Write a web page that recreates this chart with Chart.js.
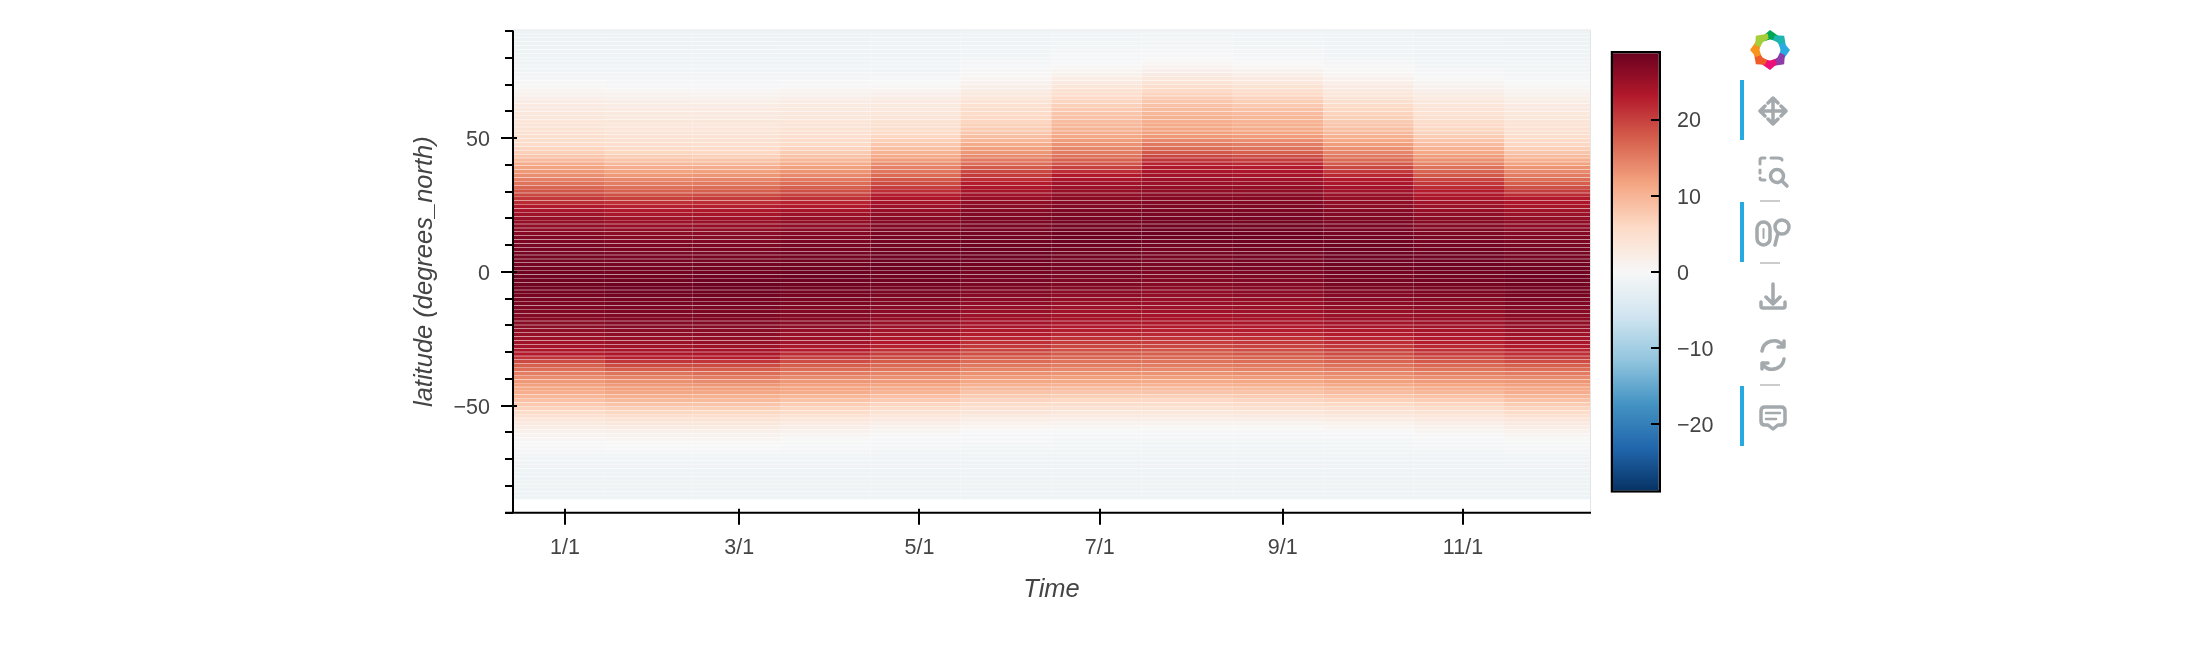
<!DOCTYPE html>
<html><head><meta charset="utf-8">
<script src="https://cdn.jsdelivr.net/npm/chart.js@4"></script>
<style>
html,body{margin:0;padding:0;background:#fff;width:2200px;height:660px;overflow:hidden}
canvas{position:absolute;top:0}
#main{left:0}#cbar{left:1600px}
svg{position:absolute;left:0;top:0}
</style></head><body>
<canvas id="main" width="1600" height="660"></canvas>
<canvas id="cbar" width="200" height="660"></canvas>
<svg width="2200" height="660" id="tb" fill="none" stroke="#a3a9ac" stroke-width="3.500" stroke-linecap="round" stroke-linejoin="round">
<g id="logo" stroke="none" style="filter:blur(0.7px)"></g>
<g stroke="none" fill="#26aae1"><rect x="1740" y="80" width="4" height="60"/><rect x="1740" y="202" width="4" height="60"/><rect x="1740" y="386" width="4" height="60"/></g>
<g stroke="#cccccc" stroke-width="2" stroke-linecap="butt"><path d="M1760 201H1780M1760 263H1780M1760 385H1780"/></g>
<path d="M1773 99V123M1761 111H1785M1768 103L1773 98L1778 103M1768 119L1773 124L1778 119M1765 106L1760 111L1765 116M1781 106L1786 111L1781 116"/>
<path d="M1760 164V160Q1760 158 1762 158H1765M1771 158H1777Q1782 158 1782 160M1760 170V173M1760 178Q1760 180 1762 180H1765" stroke-width="3"/>
<circle cx="1777" cy="176" r="6.500"/><path d="M1782 181L1787 186"/>
<rect x="1757" y="222" width="13" height="23" rx="6.500"/><path d="M1763.500 229V238" stroke-width="2"/>
<circle cx="1782" cy="227" r="7"/><path d="M1778 233L1775 245"/>
<path d="M1773 284V304M1766 297L1773 304L1780 297M1761 302V306Q1761 308 1763 308H1783Q1785 308 1785 306V302"/>
<path d="M1783 345A12 12 0 0 0 1762 351M1763 365A12 12 0 0 0 1784 359M1784 341V347H1778M1762 369V363H1768"/>
<path d="M1765 407H1781Q1785 407 1785 411V421Q1785 425 1781 425H1778L1773 429L1768 425H1765Q1761 425 1761 421V411Q1761 407 1765 407Z"/>
<path d="M1766 413H1780M1766 419H1776" stroke-width="2.500"/>
</svg>
<script>
const latitudes=[
-84.35,-82.9,-81.45,-80,-78.55,-77.1,-75.65,-74.2,-72.75,-71.3,
-69.85,-68.4,-66.95,-65.5,-64.05,-62.6,-61.15,-59.7,-58.25,-56.8,
-55.35,-53.9,-52.45,-51,-49.55,-48.1,-46.65,-45.2,-43.75,-42.3,
-40.85,-39.4,-37.95,-36.5,-35.05,-33.6,-32.15,-30.7,-29.25,-27.8,
-26.35,-24.9,-23.45,-22,-20.55,-19.1,-17.65,-16.2,-14.75,-13.3,
-11.85,-10.4,-8.95,-7.5,-6.05,-4.6,-3.15,-1.7,-0.25,1.2,
2.65,4.1,5.55,7,8.45,9.9,11.35,12.8,14.25,15.7,
17.15,18.6,20.05,21.5,22.95,24.4,25.85,27.3,28.75,30.2,
31.65,33.1,34.55,36,37.45,38.9,40.35,41.8,43.25,44.7,
46.15,47.6,49.05,50.5,51.95,53.4,54.85,56.3,57.75,59.2,
60.65,62.1,63.55,65,66.45,67.9,69.35,70.8,72.25,73.7,
75.15,76.6,78.05,79.5,80.95,82.4,83.85,85.3,86.75,88.2,89.65];
const monthEdges=[-17.6,13.5,43.1,72.8,103.4,133.8,164.6,195.2,226.1,256.7,287.3,317.9,347];
const jan=[-1.4,-1.4,-1.4,-1.4,-1.3,-1.3,-1.3,-1.3,-1.2,-1.1,
-1.0,-0.8,-0.5,-0.2,0.0,0.4,0.9,1.4,2.1,2.9,
3.6,4.5,5.5,6.6,7.7,8.7,9.8,10.6,11.3,11.9,
12.6,13.7,14.9,16.2,17.4,19.2,21.1,23.0,23.7,24.3,
24.7,25.0,25.4,25.8,26.2,26.4,26.6,26.8,27.0,27.2,
27.4,27.6,27.8,28.0,28.2,28.3,28.3,28.3,28.2,28.1,
28.0,27.9,27.9,27.8,27.7,27.6,27.3,27.0,26.6,26.1,
25.8,25.5,25.2,24.6,23.9,23.2,21.7,20.6,19.3,18.2,
16.8,15.7,14.6,13.5,12.6,11.7,10.7,9.2,8.1,7.1,
6.3,5.6,5.1,4.8,4.5,4.2,3.9,3.6,3.3,3.1,
2.9,2.6,2.2,1.8,1.3,0.7,0.1,-0.2,-0.5,-0.7,
-0.9,-1.0,-1.2,-1.3,-1.4,-1.4,-1.5,-1.5,-1.5,-1.5,-1.5];
const feb=[-1.4,-1.4,-1.4,-1.4,-1.4,-1.3,-1.3,-1.3,-1.2,-1.1,
-0.9,-0.7,-0.4,-0.1,0.1,0.6,1.1,1.7,2.4,3.3,
4.2,5.2,6.2,7.1,8.3,9.4,10.4,11.4,12.0,12.6,
13.3,14.4,15.7,17.5,19.0,20.9,22.7,23.6,24.2,24.7,
25.1,25.4,25.8,26.2,26.5,26.8,27.0,27.1,27.3,27.5,
27.7,27.9,28.1,28.3,28.4,28.4,28.3,28.2,28.1,28.0,
27.9,27.8,27.7,27.6,27.5,27.3,27.0,26.6,26.2,25.8,
25.3,24.9,24.5,23.8,23.2,22.6,21.3,20.0,18.6,17.2,
16.0,14.9,14.0,12.6,11.7,10.7,9.4,8.3,7.3,6.2,
5.5,5.0,4.7,4.3,4.0,3.8,3.5,3.3,3.0,2.9,
2.7,2.3,1.9,1.5,1.0,0.3,-0.2,-0.4,-0.6,-0.8,
-0.9,-1.0,-1.2,-1.3,-1.4,-1.4,-1.5,-1.5,-1.5,-1.5,-1.5];
const mar=[-1.4,-1.4,-1.4,-1.4,-1.4,-1.3,-1.3,-1.3,-1.2,-1.1,
-0.9,-0.7,-0.4,-0.1,0.1,0.6,1.1,1.7,2.5,3.3,
4.2,5.1,6.1,7.2,8.2,9.3,10.3,11.4,12.1,12.8,
13.8,15.0,16.3,17.6,19.1,20.9,22.9,23.7,24.3,24.9,
25.4,25.7,26.1,26.4,26.7,26.9,27.1,27.2,27.4,27.6,
27.8,28.0,28.2,28.4,28.5,28.5,28.4,28.3,28.2,28.1,
28.0,27.9,27.8,27.7,27.5,27.3,27.1,26.7,26.3,25.9,
25.5,25.1,24.7,24.0,23.4,22.8,21.6,20.4,19.0,17.5,
16.3,15.2,14.2,12.9,11.9,10.8,9.4,8.2,7.1,6.1,
5.5,5.0,4.7,4.3,4.0,3.8,3.5,3.3,3.0,2.8,
2.6,2.2,1.8,1.4,0.9,0.3,-0.2,-0.4,-0.6,-0.8,
-0.9,-1.0,-1.2,-1.3,-1.4,-1.4,-1.5,-1.5,-1.5,-1.5,-1.5];
const apr=[-1.4,-1.4,-1.4,-1.4,-1.4,-1.3,-1.3,-1.3,-1.2,-1.1,
-1.0,-0.8,-0.6,-0.3,-0.1,0.1,0.7,1.2,1.9,2.7,
3.5,4.4,5.4,6.3,7.3,8.4,9.6,10.9,11.5,12.0,
12.8,13.9,15.1,16.4,17.6,18.9,20.2,21.7,23.0,23.8,
24.5,24.8,25.2,25.6,26.0,26.3,26.5,26.7,26.9,27.1,
27.4,27.6,27.8,28.0,28.2,28.3,28.4,28.5,28.5,28.4,
28.3,28.2,28.1,28.0,27.9,27.7,27.5,27.1,26.8,26.4,
26.0,25.7,25.3,24.8,24.1,23.3,22.4,21.2,20.0,18.7,
17.4,16.3,15.2,14.0,13.0,11.9,10.9,9.6,8.5,7.5,
6.4,5.8,5.3,4.9,4.5,4.2,3.9,3.6,3.3,3.1,
2.9,2.5,2.2,1.8,1.3,0.6,0.0,-0.2,-0.5,-0.7,
-1.0,-1.1,-1.2,-1.3,-1.4,-1.4,-1.4,-1.5,-1.5,-1.5,-1.5];
const may=[-1.4,-1.4,-1.4,-1.4,-1.3,-1.3,-1.3,-1.3,-1.2,-1.2,
-1.1,-0.9,-0.7,-0.6,-0.4,-0.2,0.0,0.6,1.1,1.9,
2.8,3.6,4.4,5.4,6.3,7.6,8.7,9.9,10.8,11.6,
12.5,13.4,14.4,15.6,16.6,17.7,19.1,20.1,21.3,22.5,
23.2,23.7,24.1,24.5,25.0,25.4,25.7,26.0,26.3,26.6,
26.9,27.1,27.4,27.6,27.8,28.0,28.2,28.3,28.4,28.5,
28.5,28.5,28.4,28.3,28.2,28.1,28.0,27.8,27.5,27.2,
26.9,26.6,26.3,25.8,25.3,24.8,24.3,23.6,22.8,21.5,
20.2,19.1,18.0,16.5,15.5,14.6,13.5,12.3,11.2,10.0,
8.8,7.9,7.0,6.2,5.6,5.1,4.7,4.2,3.8,3.5,
3.2,2.9,2.6,2.2,1.6,0.9,0.3,0.0,-0.4,-0.7,
-0.9,-1.0,-1.1,-1.2,-1.3,-1.3,-1.4,-1.4,-1.4,-1.5,-1.5];
const jun=[-1.4,-1.4,-1.4,-1.3,-1.3,-1.3,-1.3,-1.3,-1.3,-1.2,
-1.2,-1.0,-0.9,-0.7,-0.6,-0.4,-0.3,0.0,0.5,1.3,
2.1,2.9,3.7,4.6,5.5,6.5,7.4,8.4,9.4,10.3,
11.4,12.4,13.3,14.4,15.4,16.5,17.6,18.7,19.6,20.6,
21.4,22.2,23.0,23.4,23.9,24.3,24.7,25.0,25.3,25.6,
26.0,26.3,26.6,26.9,27.2,27.4,27.6,27.8,27.9,28.1,
28.2,28.4,28.5,28.5,28.5,28.4,28.3,28.1,27.9,27.7,
27.5,27.3,27.2,26.9,26.6,26.2,25.8,25.3,24.7,24.2,
23.6,22.9,21.5,20.4,19.3,17.8,16.2,15.1,13.9,12.8,
11.9,10.9,9.7,8.9,8.0,7.4,6.9,6.3,5.9,5.5,
5.1,4.6,4.1,3.5,2.9,2.3,1.7,1.2,0.7,0.2,
-0.2,-0.4,-0.6,-0.8,-0.9,-1.0,-1.1,-1.2,-1.2,-1.3,-1.3];
const jul=[-1.3,-1.3,-1.3,-1.3,-1.3,-1.3,-1.3,-1.2,-1.2,-1.2,
-1.2,-1.0,-0.9,-0.8,-0.7,-0.6,-0.4,-0.1,0.3,1.1,
1.8,2.6,3.4,4.3,5.1,6.1,7.2,8.1,9.1,10.1,
11.2,12.1,13.1,14.1,15.0,15.9,16.9,17.7,18.6,19.5,
20.4,21.2,22.0,22.8,23.3,23.8,24.1,24.4,24.7,25.0,
25.4,25.7,26.0,26.4,26.7,27.0,27.2,27.4,27.6,27.8,
27.9,28.0,28.1,28.2,28.3,28.4,28.5,28.5,28.4,28.2,
28.0,27.8,27.6,27.4,27.2,26.9,26.5,26.2,25.8,25.5,
25.0,24.6,24.0,23.2,21.5,20.0,18.3,17.2,16.0,15.0,
14.1,13.2,12.3,11.3,10.7,10.1,9.6,9.1,8.6,8.1,
7.6,7.0,6.3,5.7,5.0,4.3,3.5,2.8,2.1,1.3,
0.7,0.3,0.0,-0.3,-0.4,-0.6,-0.7,-0.8,-0.9,-1.0,-1.1];
const aug=[-1.3,-1.3,-1.3,-1.3,-1.3,-1.3,-1.3,-1.3,-1.2,-1.2,
-1.2,-1.1,-1.0,-0.9,-0.8,-0.6,-0.4,-0.2,0.1,1.0,
1.8,2.6,3.4,4.2,5.1,6.0,7.1,8.2,9.1,10.0,
11.0,12.1,13.1,14.0,15.0,15.8,16.8,17.6,18.4,19.3,
20.2,21.0,21.9,22.6,23.2,23.7,24.0,24.3,24.6,24.8,
25.2,25.4,25.7,26.0,26.3,26.6,26.9,27.1,27.3,27.5,
27.6,27.7,27.8,27.9,28.0,28.1,28.3,28.4,28.5,28.4,
28.2,28.0,27.8,27.6,27.4,27.2,26.9,26.6,26.2,25.9,
25.5,25.1,24.8,24.4,24.0,23.4,22.4,20.9,19.6,18.0,
16.3,15.3,14.0,12.7,11.9,11.4,11.0,10.5,10.1,9.7,
9.1,8.5,7.9,7.3,6.5,5.7,4.9,4.1,3.2,2.4,
1.6,1.0,0.5,0.0,-0.2,-0.4,-0.5,-0.7,-0.8,-0.9,-1.0];
const sep=[-1.3,-1.3,-1.3,-1.3,-1.3,-1.3,-1.3,-1.3,-1.2,-1.2,
-1.2,-1.1,-1.0,-0.9,-0.8,-0.6,-0.4,-0.2,0.1,1.1,
1.9,2.8,3.6,4.6,5.5,6.4,7.4,8.4,9.3,10.3,
11.3,12.4,13.5,14.5,15.2,16.2,17.2,18.0,18.9,19.7,
20.6,21.3,22.2,22.9,23.3,23.9,24.2,24.5,24.8,25.1,
25.4,25.7,26.0,26.3,26.5,26.8,27.0,27.2,27.4,27.6,
27.8,27.9,28.0,28.1,28.2,28.2,28.4,28.5,28.4,28.3,
28.1,27.9,27.7,27.6,27.4,27.2,26.9,26.6,26.2,25.9,
25.5,25.0,24.6,24.2,23.6,23.1,21.9,20.3,18.9,17.4,
15.8,14.9,13.6,12.4,11.5,10.9,10.4,9.9,9.6,9.2,
8.5,7.8,7.2,6.5,5.8,5.0,4.2,3.4,2.6,1.8,
1.0,0.5,0.0,-0.4,-0.5,-0.7,-0.8,-0.9,-1.0,-1.0,-1.1];
const oct=[-1.4,-1.4,-1.4,-1.3,-1.3,-1.3,-1.3,-1.3,-1.3,-1.2,
-1.2,-1.1,-1.0,-0.8,-0.7,-0.5,-0.3,0.0,0.6,1.3,
2.3,3.2,4.1,5.0,5.9,6.9,8.0,9.1,10.0,11.0,
12.0,13.1,14.0,15.0,16.0,17.0,18.1,19.0,19.9,20.7,
21.5,22.2,23.0,23.4,23.9,24.4,24.8,25.1,25.5,25.8,
26.1,26.5,26.8,27.1,27.4,27.6,27.8,27.9,28.0,28.2,
28.3,28.4,28.5,28.5,28.5,28.5,28.3,28.1,27.9,27.7,
27.5,27.3,27.1,26.8,26.5,26.2,25.9,25.5,25.1,24.7,
24.3,23.8,23.3,22.0,20.7,19.3,17.8,16.5,15.5,14.3,
13.2,12.3,11.2,10.3,9.5,8.8,8.1,7.5,7.0,6.6,
6.1,5.5,4.8,4.0,3.5,3.0,2.4,1.8,1.2,0.6,
0.1,-0.2,-0.5,-0.8,-0.9,-1.0,-1.1,-1.2,-1.3,-1.3,-1.4];
const nov=[-1.4,-1.4,-1.4,-1.4,-1.3,-1.3,-1.3,-1.3,-1.3,-1.2,
-1.2,-1.0,-0.8,-0.6,-0.4,-0.2,0.0,0.6,1.2,1.9,
2.8,3.6,4.4,5.4,6.3,7.3,8.5,9.6,10.6,11.5,
12.5,13.6,14.7,15.7,16.7,17.9,19.0,20.2,21.2,22.0,
22.8,23.3,23.7,24.1,24.5,24.9,25.2,25.5,25.8,26.2,
26.5,26.8,27.1,27.3,27.6,27.8,28.0,28.1,28.2,28.3,
28.4,28.4,28.4,28.3,28.2,28.0,27.8,27.6,27.3,27.0,
26.7,26.5,26.2,25.8,25.4,25.0,24.5,23.9,23.4,23.0,
21.7,20.7,19.6,18.0,17.0,15.8,14.4,13.3,12.4,11.2,
10.2,9.2,8.3,7.4,6.8,6.2,5.7,5.2,4.8,4.4,
4.0,3.6,3.2,2.7,2.2,1.6,1.0,0.6,0.1,-0.3,
-0.5,-0.7,-0.9,-1.1,-1.2,-1.3,-1.3,-1.4,-1.4,-1.5,-1.5];
const dec=[-1.4,-1.4,-1.4,-1.4,-1.3,-1.3,-1.3,-1.3,-1.2,-1.1,
-1.0,-0.8,-0.6,-0.3,-0.1,0.1,0.7,1.3,2.0,2.8,
3.7,4.5,5.4,6.4,7.4,8.5,9.6,10.7,11.2,11.9,
12.8,13.9,15.1,16.2,17.4,18.9,20.4,21.4,22.3,23.4,
23.9,24.3,24.7,25.1,25.6,25.9,26.1,26.4,26.7,26.9,
27.2,27.5,27.7,27.9,28.0,28.2,28.3,28.4,28.4,28.3,
28.2,28.1,28.0,27.9,27.8,27.7,27.4,27.1,26.8,26.4,
26.1,25.8,25.5,25.0,24.5,24.0,23.6,23.2,21.7,20.3,
18.8,17.5,16.3,15.0,14.0,13.0,11.8,10.4,9.3,8.2,
7.1,6.2,5.7,5.2,4.8,4.5,4.1,3.8,3.5,3.2,
3.0,2.6,2.1,1.7,1.2,0.7,0.2,0.0,-0.4,-0.6,
-0.8,-1.0,-1.1,-1.2,-1.3,-1.4,-1.4,-1.5,-1.5,-1.5,-1.5];
const months=[jan,feb,mar,apr,may,jun,jul,aug,sep,oct,nov,dec];
const xTickDays=[0,59,120,181,243,304];
const xTickLabels=['1/1','3/1','5/1','7/1','9/1','11/1'];
const yMinorTicks=[-90,-80,-70,-60,-50,-40,-30,-20,-10,0,10,20,30,40,50,60,70,80,90];
const yMajorTicks=[-50,0,50];
const cbarTicks=[-20,-10,0,10,20];
const cbarRange=[-29,29];
const palette=['#053061','#2166ac','#4393c3','#92c5de','#d1e5f0','#f7f7f7','#fddbc7','#f4a582','#d6604d','#b2182b','#67001f'];

const hex=h=>[1,3,5].map(i=>parseInt(h.slice(i,i+2),16));
function colorFor(v){
  const t=(v-cbarRange[0])/(cbarRange[1]-cbarRange[0])*(palette.length-1);
  const i=Math.max(0,Math.min(palette.length-2,Math.floor(t))),f=t-i;
  const a=hex(palette[i]),b=hex(palette[i+1]);
  return 'rgb('+a.map((c,k)=>Math.round(c+(b[k]-c)*f)).join(',')+')';
}
const minus=v=>String(v).replace('-','\u2212');
const FONT='"Liberation Sans",Arial,sans-serif';
const INK='#444444';

const axesPlugin={id:'axes',afterDatasetsDraw(chart){
  const {ctx,chartArea:a,scales:{x,y}}=chart;
  ctx.save();
  ctx.strokeStyle='#e5e5e5';ctx.lineWidth=1;
  ctx.beginPath();ctx.moveTo(a.left,a.top-0.5);ctx.lineTo(a.right+0.5,a.top-0.5);ctx.lineTo(a.right+0.5,a.bottom);ctx.stroke();
  ctx.strokeStyle='#000';ctx.lineWidth=2;ctx.beginPath();
  yMinorTicks.forEach(v=>{const p=Math.round(y.getPixelForValue(v));
    const major=yMajorTicks.includes(v);
    ctx.moveTo(a.left-(major?12:8),p);ctx.lineTo(a.left+(major?4:0),p);});
  xTickDays.forEach(v=>{const p=Math.round(x.getPixelForValue(v));
    ctx.moveTo(p,a.bottom-4);ctx.lineTo(p,a.bottom+12);});
  ctx.moveTo(a.left,a.top);ctx.lineTo(a.left,a.bottom);
  ctx.moveTo(a.left-8,a.bottom);ctx.lineTo(a.right+1,a.bottom);
  ctx.stroke();ctx.restore();
}};

new Chart(document.getElementById('main'),{
  type:'bar',
  data:{datasets:months.map((vals,m)=>({
    data:latitudes.map((lat,i)=>({y:lat,x:[monthEdges[m],monthEdges[m+1]]})),
    backgroundColor:vals.map(v=>colorFor(v)),
    borderWidth:0,inflateAmount:0,grouped:false,
    categoryPercentage:1,barPercentage:0.89
  }))},
  plugins:[axesPlugin],
  options:{
    indexAxis:'y',responsive:false,animation:false,events:[],
    layout:{padding:{left:405,top:30.5,right:10,bottom:50.3}},
    plugins:{legend:{display:false},tooltip:{enabled:false}},
    scales:{
      y:{type:'linear',min:-90,max:90.2,offset:false,
        afterBuildTicks(s){s.ticks=yMinorTicks.map(value=>({value}))},
        afterFit(s){s.width=108;s.paddingTop=0;s.paddingBottom=0},
        grid:{display:false,offset:false,drawTicks:false},border:{display:false},
        ticks:{autoSkip:false,padding:23,labelOffset:2,color:INK,font:{family:FONT,size:21.5},
          callback:v=>yMajorTicks.includes(v)?minus(v):''},
        title:{display:true,text:'latitude (degrees_north)',color:INK,padding:{top:4.7,bottom:0},
          font:{family:FONT,size:25.5,style:'italic',weight:'normal',lineHeight:1.2}}},
      x:{type:'linear',min:monthEdges[0],max:monthEdges[12],offset:false,
        afterBuildTicks(s){s.ticks=xTickDays.map(value=>({value}))},
        afterFit(s){s.height=97;s.paddingLeft=0;s.paddingRight=0},
        grid:{display:false,drawTicks:false},border:{display:false},
        ticks:{autoSkip:false,maxRotation:0,padding:22,color:INK,font:{family:FONT,size:21.5},
          callback:v=>xTickLabels[xTickDays.indexOf(v)]},
        title:{display:true,text:'Time',color:INK,padding:{top:0,bottom:4},
          font:{family:FONT,size:25.5,style:'italic',weight:'normal',lineHeight:1.2}}}
    }
  }
});

const cbarTickPlugin={id:'cbarTicks',afterDatasetsDraw(chart){
  const {ctx,chartArea:a,scales:{y}}=chart;
  ctx.save();ctx.strokeStyle='#000';ctx.lineWidth=2;ctx.beginPath();
  cbarTicks.forEach(v=>{const p=Math.round(y.getPixelForValue(v));ctx.moveTo(a.right-10,p);ctx.lineTo(a.right,p);});
  ctx.stroke();ctx.restore();
}};
new Chart(document.getElementById('cbar'),{
  type:'bar',
  data:{labels:[''],datasets:[{
    data:[cbarRange],
    backgroundColor(c){
      const {ctx,chartArea:a,scales}=c.chart;
      if(!a)return '#000';
      const g=ctx.createLinearGradient(0,scales.y.getPixelForValue(cbarRange[0]),0,scales.y.getPixelForValue(cbarRange[1]));
      palette.forEach((col,i)=>g.addColorStop(i/(palette.length-1),col));
      return g;
    },
    borderColor:'#000',borderWidth:2.5,borderSkipped:false,inflateAmount:0,
    categoryPercentage:1,barPercentage:1,clip:false
  }]},
  plugins:[cbarTickPlugin],
  options:{
    responsive:false,animation:false,events:[],
    layout:{padding:{left:10.5,top:51,right:0,bottom:167.3}},
    plugins:{legend:{display:false},tooltip:{enabled:false}},
    scales:{
      x:{display:false},
      y:{position:'right',min:cbarRange[0],max:cbarRange[1],
        afterBuildTicks(s){s.ticks=cbarTicks.map(value=>({value}))},
        afterFit(s){s.width=139;s.paddingTop=0;s.paddingBottom=0},
        grid:{display:false,drawTicks:false},border:{display:false},
        ticks:{autoSkip:false,padding:16,labelOffset:2,color:INK,font:{family:FONT,size:21.5},callback:v=>minus(v)}}
    }
  }
});

/* toolbar logo */
const logoCols=['#00a651','#1cb5b0','#29abe2','#8e3ca8','#ec1078','#f15a29','#f7941e','#a6ce39'];
document.getElementById('logo').innerHTML=logoCols.map((c,k)=>
 '<polygon fill="'+c+'" transform="rotate('+(k*45)+' 1770 50)" points="1770,30 1780,37 1777,41 1770,39.500 1765,41 1763,36"/>').join('');
</script>
</body></html>
